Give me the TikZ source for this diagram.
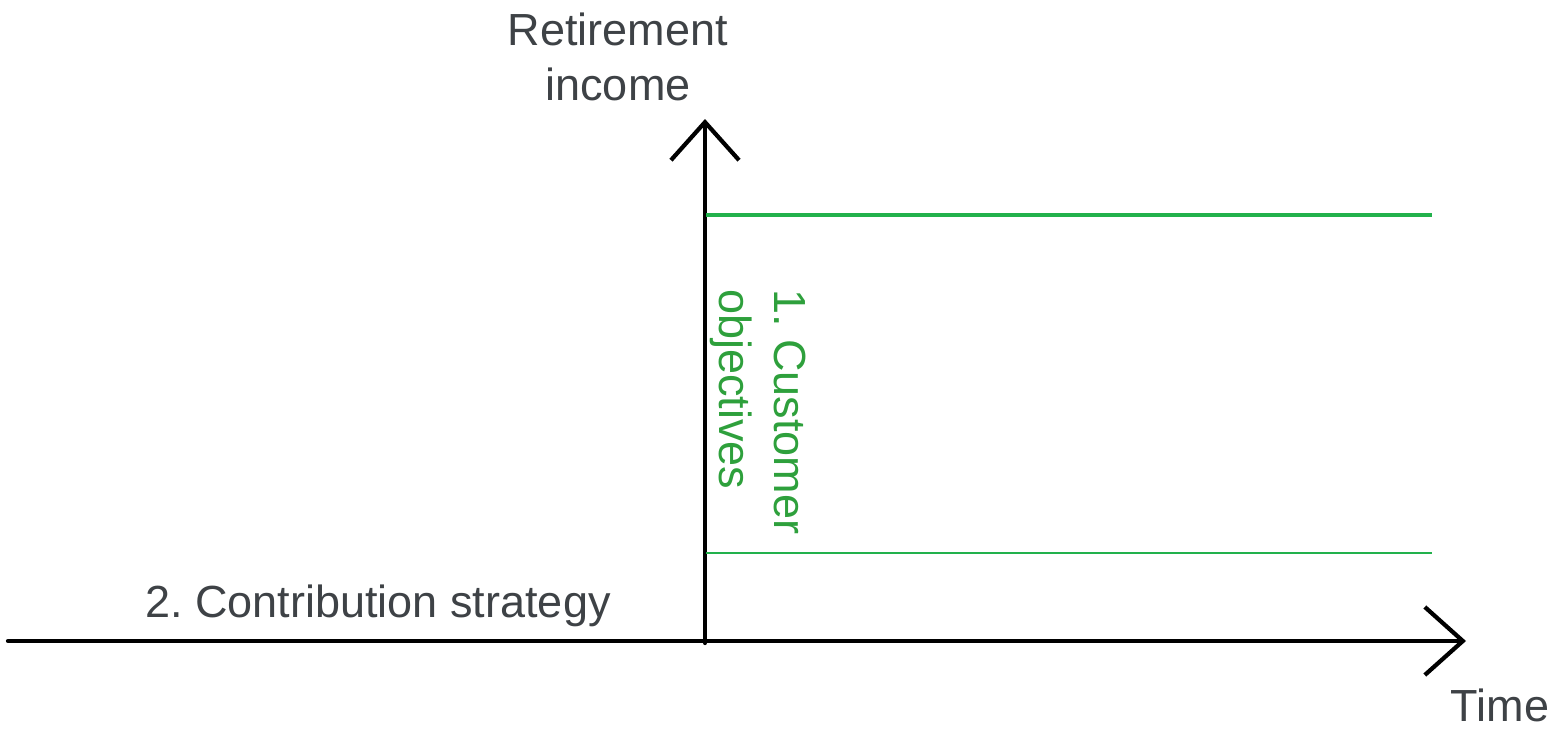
\documentclass[tikz,border=0pt]{standalone}
\usepackage{fontspec}
\setmainfont{Liberation Sans}
\usetikzlibrary{arrows.meta,positioning}
\definecolor{axisgray}{RGB}{62,66,70}
\definecolor{linegreen}{RGB}{34,177,76}
\definecolor{textgreen}{RGB}{46,160,60}
\frenchspacing
\tikzset{
    axis/.style={line width=3pt, line cap=round, -{Straight Barb[length=0.95cm, width=1.7cm, line width=3pt]}},
    level/.style={linegreen, line width=2.8pt},
    label/.style={text=axisgray, font=\fontsize{32}{39}\selectfont, inner sep=0pt, align=center},
}
\begin{document}
\begin{tikzpicture}[x=0.025cm, y=-0.025cm]
    \useasboundingbox (0,0) rectangle (1560,730);
    % axes
    \coordinate (origin) at (705,643);
    \coordinate (xstart) at (8,641);
    \coordinate (xend) at (1466,641);
    \coordinate (yend) at (705,119);
    \draw[axis] (xstart) -- (xend);
    \draw[axis] (origin) -- (yend);
    % objective levels
    \coordinate (hi) at (706,215);
    \coordinate (hiend) at (1432,215);
    \coordinate (lo) at (706,553);
    \coordinate (loend) at (1432,553);
    \draw[level] (hi) -- (hiend);
    \draw[level, line width=1.8pt] (lo) -- (loend);
    % labels
    \node[label] (income) at (618,57) {Retirement\\income};
    \node[label, anchor=base] (strategy) at (378,617) {2. Contribution strategy};
    \node[label, anchor=base] (time) at (1500,721) {Time};
    \node[label, text=textgreen, rotate=-90, anchor=west, align=left] (objectives) at (758,289) {1. Customer\\objectives};
\end{tikzpicture}
\end{document}
